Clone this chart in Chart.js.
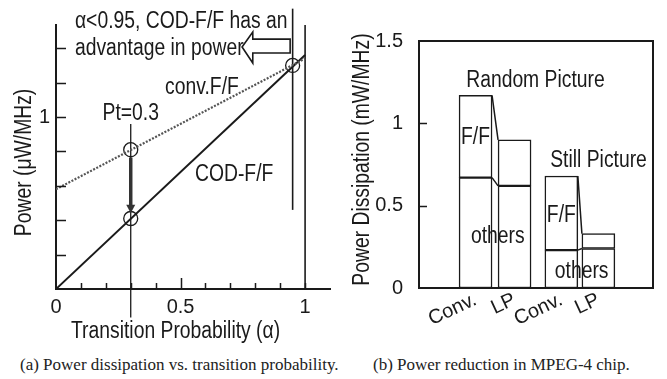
<!DOCTYPE html>
<html>
<head>
<meta charset="utf-8">
<script src="https://cdn.jsdelivr.net/npm/chart.js@4.4.0/dist/chart.umd.min.js"></script>
<style>
  body { margin: 0; background: #fff; }
  #wrap { position: relative; width: 667px; height: 379px; overflow: hidden; }
  #left { position: absolute; left: 0; top: 0; }
  #right { position: absolute; left: 340px; top: 0; }
  .cap { position: absolute; top: 355px; font: 17px 'Liberation Serif', 'Times New Roman', serif; color: #222; white-space: nowrap; }
</style>
</head>
<body>
<div id="wrap">
  <canvas id="left" width="340" height="350"></canvas>
  <canvas id="right" width="327" height="350"></canvas>
  <div class="cap" style="left:20px">(a) Power dissipation vs. transition probability.</div>
  <div class="cap" style="left:373px">(b) Power reduction in MPEG-4 chip.</div>
</div>
<script>
// (a) power vs. transition probability, end points of both lines
const alpha = [0, 1.0];
const convFF = [0.58, 1.34];
const codFF = [0, 1.36];
// circled points
const markAlpha = [0.3, 0.3, 0.95];
const markPower = [0.81, 0.41, 1.30];
// vertical guide lines (alpha, from, to)
const guideAlpha = [0.3, 0.95, 1.0];
const guideLow = [-0.165, 0.46, 0];
const guideHigh = [0.96, 1.63, 1.535];

// (b) MPEG-4 chip, mW/MHz
const barLabels = ['Conv.', 'LP', 'Conv.', 'LP'];
const barPos = [0.7, 1.7, 2.9, 3.85];
const others = [0.67, 0.62, 0.23, 0.24];
const total = [1.17, 0.90, 0.68, 0.33];

const FONT = "'Liberation Sans', Arial, sans-serif";
const ink = '#1a1a1a';
Chart.defaults.font.family = FONT;
Chart.defaults.color = ink;

function pts(xs, ys) {
    return xs.map((x, i) => ({ x: x, y: ys[i] }));
}

// the scan uses a narrow sans, so squeeze the text a bit
function label(ctx, text, px, py, align, rot) {
    ctx.save();
    ctx.translate(px, py);
    if (rot) ctx.rotate(rot);
    ctx.scale(0.84, 1);
    ctx.textAlign = align || 'left';
    ctx.textBaseline = 'middle';
    ctx.fillText(text, 0, 0);
    ctx.restore();
}

// tick marks, arrows, titles and notes for panel (a)
const leftMarks = {
    id: 'leftMarks',
    afterDraw(chart) {
        const { ctx, chartArea: a, scales: { x, y } } = chart;
        const X = v => x.getPixelForValue(v);
        const Y = v => y.getPixelForValue(v);
        ctx.save();
        ctx.strokeStyle = ink;
        ctx.lineWidth = 1.5;
        ctx.beginPath();
        for (let i = 1; i <= 7; i++) {
            const py = Math.round(Y(i * 0.2)) + 0.5;
            ctx.moveTo(a.left, py);
            ctx.lineTo(a.left + 10, py);
        }
        for (let i = 1; i <= 10; i++) {
            const px = Math.round(X(i / 10)) + 0.5;
            ctx.moveTo(px, a.bottom);
            ctx.lineTo(px, a.bottom - (i === 5 ? 11 : 6));
        }
        ctx.stroke();

        // thick arrow from conv.F/F down to COD-F/F
        ctx.lineWidth = 3.5;
        ctx.strokeStyle = '#333';
        ctx.beginPath();
        ctx.moveTo(X(0.3), Y(0.765));
        ctx.lineTo(X(0.3), Y(0.48));
        ctx.stroke();
        ctx.fillStyle = '#333';
        ctx.beginPath();
        ctx.moveTo(X(0.3) - 4.5, Y(0.49));
        ctx.lineTo(X(0.3) + 4.5, Y(0.49));
        ctx.lineTo(X(0.3), Y(0.44));
        ctx.closePath();
        ctx.fill();

        // text
        ctx.fillStyle = ink;
        ctx.font = '23px ' + FONT;
        label(ctx, 'α<0.95, COD-F/F has an', X(0.076), Y(1.555));
        label(ctx, 'advantage in power', X(0.076), Y(1.40));
        label(ctx, 'conv.F/F', X(0.438), Y(1.17));
        label(ctx, 'Pt=0.3', X(0.3), Y(1.02), 'center');
        label(ctx, 'COD-F/F', X(0.558), Y(0.663));
        label(ctx, 'Transition Probability (α)', X(0.48), a.bottom + 43, 'center');
        label(ctx, 'Power (μW/MHz)', a.left - 31, Y(0.736), 'center', -Math.PI / 2);

        // hollow arrow pointing left
        const poly = [[0.747, 1.407], [0.79, 1.494], [0.79, 1.453], [0.94, 1.453],
                      [0.94, 1.372], [0.79, 1.372], [0.79, 1.314]];
        ctx.lineWidth = 1.6;
        ctx.strokeStyle = ink;
        ctx.beginPath();
        poly.forEach((p, i) => i ? ctx.lineTo(X(p[0]), Y(p[1])) : ctx.moveTo(X(p[0]), Y(p[1])));
        ctx.closePath();
        ctx.stroke();
        ctx.restore();
    }
};

new Chart(document.getElementById('left'), {
    type: 'scatter',
    data: {
        datasets: [
            {
                data: pts(alpha, convFF), showLine: true, pointRadius: 0,
                borderColor: '#555', borderWidth: 2.2, borderDash: [2, 1.5]
            },
            {
                data: pts(alpha, codFF), showLine: true, pointRadius: 0,
                borderColor: ink, borderWidth: 2
            },
            {
                data: pts(markAlpha, markPower), showLine: false, pointRadius: 7,
                pointBorderColor: ink, pointBorderWidth: 1.3, pointBackgroundColor: 'rgba(0,0,0,0)'
            },
            ...guideAlpha.map((g, i) => ({
                data: [{ x: g, y: guideLow[i] }, { x: g, y: guideHigh[i] }],
                showLine: true, pointRadius: 0, borderColor: ink,
                borderWidth: i === 0 ? 1.3 : 1.6, clip: false
            }))
        ]
    },
    options: {
        responsive: false,
        animation: false,
        layout: { padding: { top: 25, right: 10, left: 0, bottom: 0 } },
        plugins: { legend: { display: false }, tooltip: { enabled: false }, colors: { enabled: false } },
        scales: {
            x: {
                type: 'linear', min: 0, max: 1.1,
                ticks: {
                    stepSize: 0.1, autoSkip: false, maxRotation: 0, padding: 6,
                    font: { size: 20 },
                    callback: v => Math.abs(v) < 1e-6 ? '0' : Math.abs(v - 0.5) < 1e-6 ? '0.5' : Math.abs(v - 1) < 1e-6 ? '1' : ''
                },
                grid: { display: false, drawTicks: false },
                border: { display: true, color: ink, width: 2 },
                afterFit: s => { s.height = 61; }
            },
            y: {
                min: 0, max: 1.535,
                ticks: {
                    stepSize: 0.2, autoSkip: false, padding: 6,
                    font: { size: 20 },
                    callback: v => Math.abs(v - 1) < 1e-6 ? '1' : ''
                },
                grid: { display: false, drawTicks: false },
                border: { display: true, color: ink, width: 2 },
                afterFit: s => { s.width = 56; }
            }
        }
    },
    plugins: [leftMarks]
});

// frame, connectors, title and notes for panel (b)
const rightMarks = {
    id: 'rightMarks',
    afterDatasetsDraw(chart) {
        const { ctx, chartArea: a, scales: { x, y } } = chart;
        const X = v => x.getPixelForValue(v);
        const Y = v => y.getPixelForValue(v);
        ctx.save();
        ctx.strokeStyle = ink;
        ctx.lineWidth = 2;
        ctx.strokeRect(a.left, a.top, a.right - a.left, a.bottom - a.top);
        ctx.lineWidth = 1.5;
        ctx.beginPath();
        [0.5, 1].forEach(v => {
            const py = Math.round(Y(v)) + 0.5;
            ctx.moveTo(a.left, py);
            ctx.lineTo(a.left + 8, py);
        });
        // connect each Conv. bar to its LP bar
        const lower = chart.getDatasetMeta(0).data;
        const upper = chart.getDatasetMeta(1).data;
        [0, 2].forEach(i => {
            [lower, upper].forEach(bars => {
                const b0 = bars[i], b1 = bars[i + 1];
                ctx.moveTo(b0.x + b0.width / 2, b0.y);
                ctx.lineTo(b1.x - b1.width / 2, b1.y);
            });
        });
        ctx.stroke();

        ctx.fillStyle = ink;
        ctx.font = '23px ' + FONT;
        label(ctx, 'Random Picture', X(0.46), Y(1.26));
        label(ctx, 'Still Picture', X(2.615), Y(0.776));
        label(ctx, 'F/F', X(barPos[0]), Y(0.91), 'center');
        label(ctx, 'F/F', X(barPos[2]), Y(0.44), 'center');
        label(ctx, 'others', X(1.27), Y(0.31), 'center');
        label(ctx, 'others', X(3.42), Y(0.097), 'center');
        label(ctx, 'Power Dissipation (mW/MHz)', a.left - 56, Y(0.78), 'center', -Math.PI / 2);
        ctx.restore();
    }
};

const barStyle = {
    grouped: false, barThickness: 33, borderSkipped: false,
    borderWidth: 1.5, borderColor: ink, backgroundColor: '#fff'
};

new Chart(document.getElementById('right'), {
    type: 'bar',
    data: {
        datasets: [
            Object.assign({
                label: 'others',
                data: barPos.map((p, i) => ({ x: p, y: others[i] }))
            }, barStyle),
            Object.assign({
                label: 'F/F',
                data: barPos.map((p, i) => ({ x: p, y: [others[i], total[i]] }))
            }, barStyle)
        ]
    },
    options: {
        responsive: false,
        animation: false,
        layout: { padding: { top: 41, right: 14, left: 0, bottom: 0 } },
        plugins: { legend: { display: false }, tooltip: { enabled: false }, colors: { enabled: false } },
        scales: {
            x: {
                type: 'linear', min: 0, max: 4.5,
                afterBuildTicks: s => { s.ticks = barPos.map(v => ({ value: v })); },
                ticks: {
                    autoSkip: false, minRotation: 25, maxRotation: 25, padding: 0,
                    font: { size: 20 },
                    callback: (v, i) => barLabels[i]
                },
                grid: { display: false, drawTicks: false },
                border: { display: true, color: ink, width: 2 },
                afterFit: s => { s.height = 62; }
            },
            y: {
                min: 0, max: 1.5,
                ticks: { stepSize: 0.5, padding: 16, font: { size: 20 }, callback: v => String(v) },
                grid: { display: false, drawTicks: false },
                border: { display: true, color: ink, width: 2 },
                afterFit: s => { s.width = 79; }
            }
        }
    },
    plugins: [rightMarks]
});
</script>
</body>
</html>
